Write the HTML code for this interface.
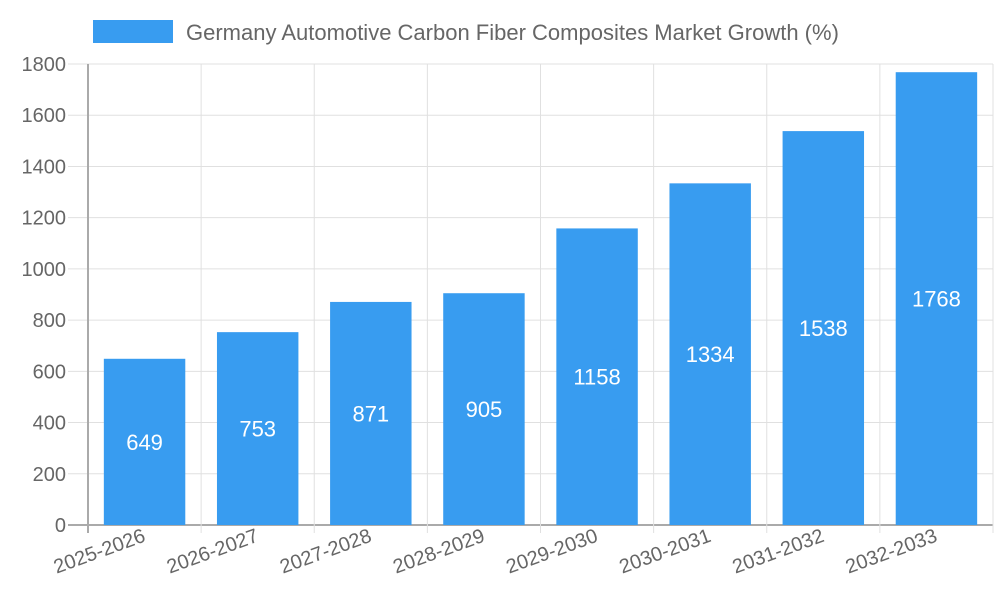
<!DOCTYPE html>
<html><head><meta charset="utf-8"><style>
html,body{margin:0;padding:0;background:#fff;}
svg{display:block;font-family:"Liberation Sans",sans-serif;}
</style></head><body>
<svg id="chart" width="1000" height="600" viewBox="0 0 1000 600" xmlns="http://www.w3.org/2000/svg">
<g>
<rect x="93" y="20" width="80" height="23" fill="#389cf0"/>
<text x="186" y="40" font-size="22" fill="#666">Germany Automotive Carbon Fiber Composites Market Growth (%)</text>
</g>
<g id="grid"></g><g id="bars"></g><g id="axes"></g>
</svg>
<script>
const categories = ["2025-2026","2026-2027","2027-2028","2028-2029","2029-2030","2030-2031","2031-2032","2032-2033"];
const values = [649,753,871,905,1158,1334,1538,1768];
const yTicks = [0,200,400,600,800,1000,1200,1400,1600,1800];
const NS="http://www.w3.org/2000/svg";
const L=88,R=993,T=64,B=525,yMax=1800;
const step=(R-L)/categories.length;
const x=i=>L+i*step;
const y=v=>B-(v/yMax)*(B-T);
function mk(tag,attrs,parent,text){const e=document.createElementNS(NS,tag);for(const k in attrs)e.setAttribute(k,attrs[k]);if(text!==undefined)e.textContent=text;document.getElementById(parent).appendChild(e);return e;}
yTicks.forEach(t=>{
  const g=mk("line",{x1:68,x2:R,y1:y(t),y2:y(t),stroke:t===0?"#aaa":"#e0e0e0","stroke-width":t===0?2:1},"grid");
  
  
  const lb=mk("text",{x:66,y:y(t)+7,"text-anchor":"end","font-size":20,fill:"#666"},"axes",String(t));
  
  
});
for(let i=0;i<=categories.length;i++){
  const g=mk("line",{x1:x(i),x2:x(i),y1:T,y2:B+8,stroke:i===0?"#aaa":"#e0e0e0","stroke-width":i===0?2:1},"grid");
  
  
}
categories.forEach((c,i)=>{
  const bw=step*0.72, cx=x(i)+step/2;
  const r=mk("rect",{x:cx-bw/2,y:y(values[i]),width:bw,height:B-y(values[i]),fill:"#389cf0"},"bars");
  
  
  const v=mk("text",{x:cx,y:(y(values[i])+B)/2+8,"text-anchor":"middle","font-size":22,fill:"#fff"},"bars",String(values[i]));
  
  
  const lx=cx+2, ly=541;
  const t=mk("text",{x:lx,y:ly,"text-anchor":"end","font-size":20,fill:"#666",transform:`rotate(-20 ${lx} ${ly})`},"axes",c);
  
  
});
const ax=mk("line",{x1:L,x2:L,y1:T,y2:B+8,stroke:"#aaa","stroke-width":2},"axes");


</script>
</body></html>
